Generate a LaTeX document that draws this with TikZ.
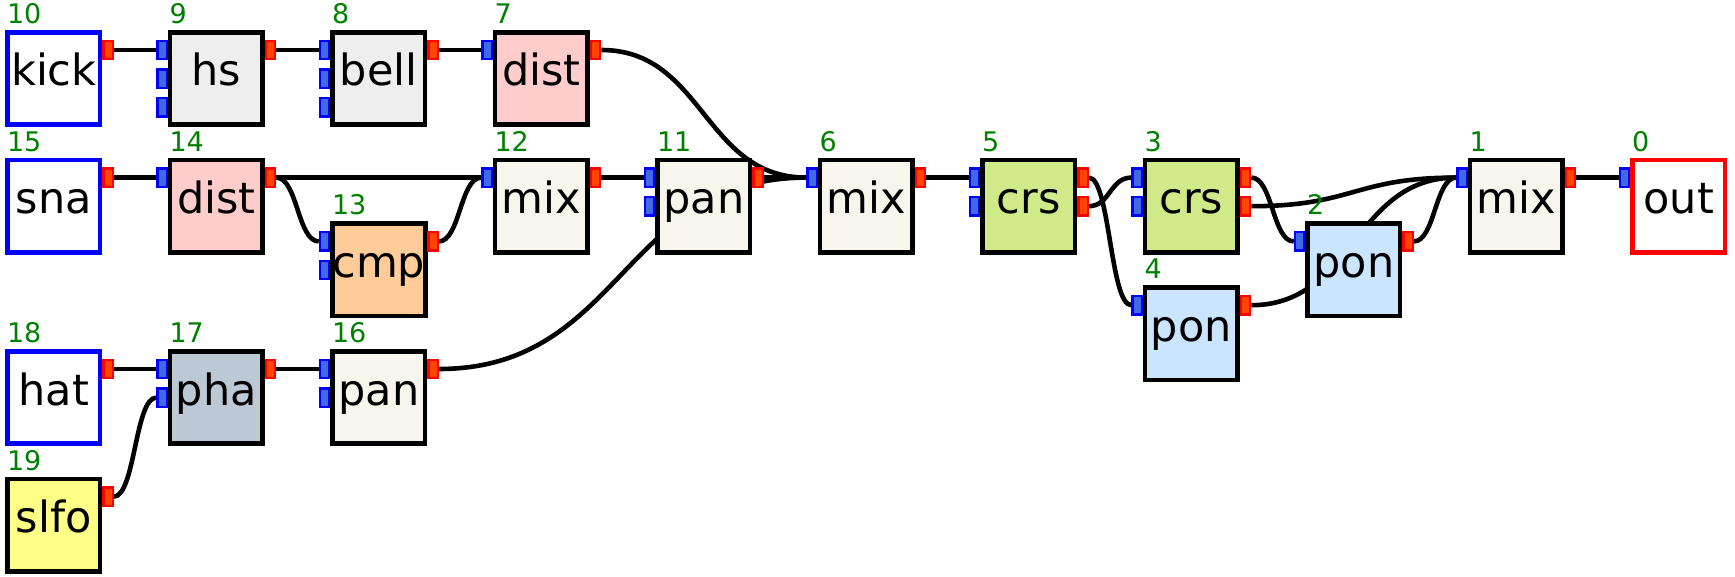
\documentclass[tikz,border=0pt]{standalone}
\usepackage{fontspec}
\setmainfont{DejaVu Sans}
\usetikzlibrary{backgrounds,calc}
\definecolor{numgreen}{HTML}{008000}
\definecolor{inblue}{HTML}{4169E1}
\definecolor{outred}{HTML}{FF4500}
\definecolor{gbox}{HTML}{EEEEEE}
\definecolor{pbox}{HTML}{FFCCCC}
\definecolor{cbox}{HTML}{F8F5EC}
\definecolor{obox}{HTML}{FFCC99}
\definecolor{lbox}{HTML}{D0EA8A}
\definecolor{bbox}{HTML}{CCE5FF}
\definecolor{sbox}{HTML}{BCC9D4}
\definecolor{ybox}{HTML}{FFFF88}
\begin{document}
\begin{tikzpicture}[x=1pt,y=-1pt,
  box/.style={draw=black,fill=white,line width=4.6pt,minimum size=92.4pt,inner sep=0pt,
    text height=30pt,text depth=15pt,font=\fontsize{43}{50}\selectfont},
  src/.style={box,draw=blue},
  sink/.style={box,draw=red},
  inport/.style={draw=blue,fill=inblue,line width=2.3pt,minimum width=9.2pt,minimum height=18.4pt,inner sep=0pt},
  outport/.style={inport,draw=red,fill=outred},
  num/.style={anchor=base west,inner sep=0pt,text=numgreen,font=\fontsize{27}{30}\selectfont},
  wire/.style={line width=4.6pt,to path={let \p1=(\tikztostart),\p2=(\tikztotarget) in
    .. controls ({(\x1+\x2)/2},\y1) and ({(\x1+\x2)/2},\y2) .. (\tikztotarget)}}]
\useasboundingbox (0,0) rectangle (1735,577);
\def\cp{162.5}  % column pitch
\def\hr{63.8}   % half row
\def\xo{53.8}   % centre of column 0
\def\yo{78.5}   % centre of row 0
% a module: text #1, number #2, column #3, half row #4, look #5, inputs #6, outputs #7
\newcommand{\modbox}[7]{%
  \node[#5] (n#2) at ({#3*\cp+\xo},{#4*\hr+\yo}) {#1};
  \node[num] (t#2) at ({#3*\cp+\xo-47},{#4*\hr+\yo-55}) {#2};
  \ifnum#6>0 \foreach \j in {1,...,#6}{\node[inport] (n#2i\j) at ({#3*\cp+\xo-54.25},{#4*\hr+\yo-28.5+28.6*(\j-1)}) {};}\fi
  \ifnum#7>0 \foreach \j in {1,...,#7}{\node[outport] (n#2o\j) at ({#3*\cp+\xo+54.25},{#4*\hr+\yo-28.5+28.6*(\j-1)}) {};}\fi
}
% kick chain
\modbox{kick}{10}{0}{0}{src}{0}{1}
\modbox{hs}{9}{1}{0}{box,fill=gbox}{3}{1}
\modbox{bell}{8}{2}{0}{box,fill=gbox}{3}{1}
\modbox{dist}{7}{3}{0}{box,fill=pbox}{1}{1}
% snare chain
\modbox{sna}{15}{0}{2}{src}{0}{1}
\modbox{dist}{14}{1}{2}{box,fill=pbox}{1}{1}
\modbox{cmp}{13}{2}{3}{box,fill=obox}{2}{1}
\modbox{mix}{12}{3}{2}{box,fill=cbox}{1}{1}
\modbox{pan}{11}{4}{2}{box,fill=cbox}{2}{1}
% hat chain
\modbox{hat}{18}{0}{5}{src}{0}{1}
\modbox{slfo}{19}{0}{7}{box,fill=ybox}{0}{1}
\modbox{pha}{17}{1}{5}{box,fill=sbox}{2}{1}
\modbox{pan}{16}{2}{5}{box,fill=cbox}{2}{1}
% master
\modbox{mix}{6}{5}{2}{box,fill=cbox}{1}{1}
\modbox{crs}{5}{6}{2}{box,fill=lbox}{2}{2}
\modbox{crs}{3}{7}{2}{box,fill=lbox}{2}{2}
\modbox{pon}{4}{7}{4}{box,fill=bbox}{1}{1}
\modbox{pon}{2}{8}{3}{box,fill=bbox}{1}{1}
\modbox{mix}{1}{9}{2}{box,fill=cbox}{1}{1}
\modbox{out}{0}{10}{2}{sink}{1}{0}
% wires go under the modules
\begin{pgfonlayer}{background}
\draw[wire] (n10o1.east) to (n9i1.west);
\draw[wire] (n9o1.east) to (n8i1.west);
\draw[wire] (n8o1.east) to (n7i1.west);
\draw[wire] (n7o1.east) to (n6i1.west);
\draw[wire] (n15o1.east) to (n14i1.west);
\draw[wire] (n14o1.east) to (n12i1.west);
\draw[wire] (n14o1.east) to (n13i1.west);
\draw[wire] (n13o1.east) to (n12i1.west);
\draw[wire] (n12o1.east) to (n11i1.west);
\draw[wire] (n11o1.east) to (n6i1.west);
\draw[wire] (n18o1.east) to (n17i1.west);
\draw[wire] (n19o1.east) to (n17i2.west);
\draw[wire] (n17o1.east) to (n16i1.west);
\draw[wire] (n16o1.east) to (n6i1.west);
\draw[wire] (n6o1.east) to (n5i1.west);
\draw[wire] (n5o1.east) to (n4i1.west);
\draw[wire] (n5o2.east) to (n3i1.west);
\draw[wire] (n3o1.east) to (n2i1.west);
\draw[wire] (n3o2.east) to (n1i1.west);
\draw[wire] (n4o1.east) to (n1i1.west);
\draw[wire] (n2o1.east) to (n1i1.west);
\draw[wire] (n1o1.east) to (n0i1.west);
\end{pgfonlayer}
\end{tikzpicture}
\end{document}
